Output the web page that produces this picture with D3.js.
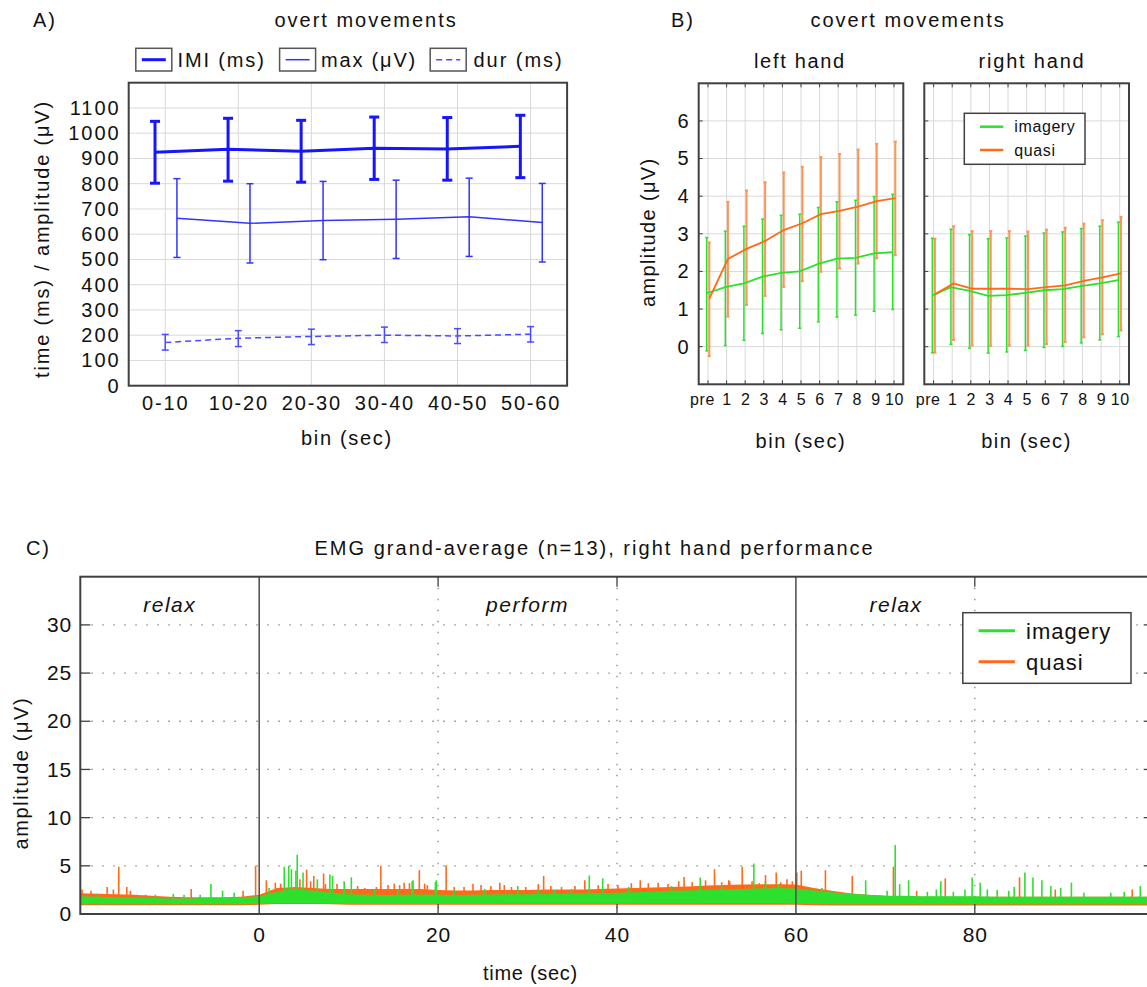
<!DOCTYPE html>
<html>
<head>
<meta charset="utf-8">
<script src="https://cdn.jsdelivr.net/npm/d3@7"></script>
<style>
  html, body { margin: 0; padding: 0; background: #fff; }
  svg { display: block; font-family: "Liberation Sans", Arial, Helvetica, sans-serif; }
</style>
</head>
<body>
<svg id="chart" width="1147" height="987"></svg>
<script>
// ---------------- Panel A data: overt movements ----------------
const binsA = ["0-10", "10-20", "20-30", "30-40", "40-50", "50-60"];
const imiMean = [925, 936, 929, 940, 937, 948];
const imiHi   = [1047, 1059, 1051, 1064, 1062, 1071];
const imiLo   = [802, 810, 806, 817, 814, 824];
const maxMean = [663, 643, 654, 659, 669, 646];
const maxHi   = [820, 800, 809, 814, 822, 801];
const maxLo   = [508, 486, 499, 504, 512, 490];
const durMean = [171, 188, 195, 200, 197, 204];
const durHi   = [203, 218, 224, 232, 226, 234];
const durLo   = [141, 155, 163, 171, 167, 173];
const yTicksA = [0, 100, 200, 300, 400, 500, 600, 700, 800, 900, 1000, 1100];
const legendA = ["IMI (ms)", "max (\u03BCV)", "dur (ms)"];

// ---------------- Panel B data: covert movements ----------------
const binsB = ["pre", "1", "2", "3", "4", "5", "6", "7", "8", "9", "10"];
const leftImgMean = [1.42, 1.58, 1.68, 1.86, 1.96, 2.00, 2.20, 2.34, 2.36, 2.48, 2.51];
const leftImgHi   = [2.90, 3.07, 3.20, 3.39, 3.49, 3.52, 3.70, 3.85, 3.89, 3.99, 4.05];
const leftImgLo   = [-0.11, 0.03, 0.17, 0.35, 0.45, 0.49, 0.66, 0.79, 0.84, 0.94, 0.99];
const leftQuaMean = [1.28, 2.33, 2.60, 2.81, 3.10, 3.28, 3.52, 3.61, 3.72, 3.87, 3.95];
const leftQuaHi   = [2.77, 3.85, 4.15, 4.37, 4.63, 4.78, 5.04, 5.12, 5.24, 5.39, 5.45];
const leftQuaLo   = [-0.25, 0.80, 1.11, 1.35, 1.59, 1.74, 1.99, 2.08, 2.21, 2.35, 2.43];
const rightImgMean = [1.36, 1.58, 1.48, 1.35, 1.37, 1.43, 1.50, 1.53, 1.61, 1.68, 1.77];
const rightImgHi   = [2.88, 3.12, 2.98, 2.87, 2.89, 2.94, 3.02, 3.05, 3.14, 3.20, 3.31];
const rightImgLo   = [-0.16, 0.06, -0.04, -0.17, -0.14, -0.10, -0.02, 0.01, 0.10, 0.18, 0.27];
const rightQuaMean = [1.39, 1.68, 1.54, 1.54, 1.54, 1.53, 1.58, 1.63, 1.75, 1.84, 1.95];
const rightQuaHi   = [2.87, 3.20, 3.07, 3.07, 3.07, 3.06, 3.11, 3.16, 3.27, 3.36, 3.45];
const rightQuaLo   = [-0.16, 0.18, 0.03, 0.02, 0.03, 0.03, 0.07, 0.12, 0.25, 0.33, 0.43];
const yTicksB = [0, 1, 2, 3, 4, 5, 6];
const legendB = ["imagery", "quasi"];

// ---------------- Panel C data: EMG grand average ----------------
// envelope of the dense trace, sampled every 2 s from -20 s to 100 s
const emgTime = [-20,-18,-16,-14,-12,-10,-8,-6,-4,-2,0,2,4,6,8,10,12,14,16,18,20,22,24,26,28,30,32,34,36,38,40,42,44,46,48,50,52,54,56,58,60,62,64,66,68,70,72,74,76,78,80,82,84,86,88,90,92,94,96,98,100];
const imgBandHi = [1.85,1.80,1.75,1.70,1.65,1.60,1.62,1.65,1.68,1.72,1.85,2.30,2.60,2.40,2.20,2.05,2.00,1.98,2.00,2.02,2.00,1.98,2.00,2.02,2.05,2.05,2.08,2.10,2.12,2.15,2.20,2.25,2.30,2.40,2.45,2.50,2.55,2.60,2.65,2.70,2.65,2.45,2.25,2.10,2.00,1.90,1.90,1.85,1.85,1.85,1.85,1.80,1.80,1.80,1.80,1.80,1.78,1.78,1.78,1.78,1.78];
const imgBandLo = [1.00,1.00,1.00,1.00,1.00,1.00,1.00,1.00,1.00,1.00,1.05,1.15,1.15,1.15,1.12,1.05,1.05,1.05,1.05,1.05,1.05,1.05,1.05,1.05,1.08,1.08,1.08,1.08,1.10,1.10,1.10,1.10,1.12,1.12,1.12,1.15,1.15,1.15,1.15,1.15,1.10,1.05,1.00,1.00,1.00,1.00,1.00,1.00,1.00,1.00,1.00,1.00,1.00,1.00,1.00,1.00,1.00,1.00,1.00,1.00,1.00];
const quaBandHi = [2.15,2.10,2.05,2.00,1.90,1.80,1.75,1.75,1.75,1.80,2.00,2.70,2.80,2.70,2.60,2.60,2.60,2.60,2.60,2.60,2.50,2.45,2.45,2.50,2.50,2.50,2.55,2.55,2.55,2.60,2.65,2.70,2.75,2.80,2.85,2.95,3.00,3.05,3.10,3.10,3.05,2.70,2.40,2.15,2.00,1.90,1.80,1.80,1.80,1.80,1.80,1.80,1.80,1.80,1.80,1.80,1.80,1.80,1.80,1.80,1.80];
const quaBandLo = [0.90,0.90,0.90,0.90,0.90,0.90,0.90,0.90,0.90,0.90,0.95,1.05,1.05,1.05,1.00,0.95,0.95,0.95,0.95,0.95,0.95,0.95,0.95,0.95,0.95,0.95,0.95,0.95,0.95,0.95,0.95,0.95,0.95,0.95,0.95,0.95,0.95,0.95,0.95,0.95,0.95,0.90,0.87,0.87,0.87,0.87,0.87,0.87,0.87,0.87,0.87,0.87,0.87,0.87,0.87,0.87,0.87,0.87,0.87,0.87,0.87];
// spikes of the trace (time in s, peak amplitude in uV)
const imgSpikeT = [-18.1,-11.6,-9.6,-8.4,-6.6,-5.4,-4.1,-2.8,1.1,2.8,3.3,3.6,4.1,4.25,4.9,6.5,7.9,8.2,9.5,10.3,12.9,15.5,17.1,17.2,19.7,19.8,21.8,25.2,28.9,31.2,33.0,34.9,36.9,38.4,41.3,46.1,49.3,51.7,55.3,56.6,58.1,62.9,67.8,70.2,71.1,71.6,72.6,74.7,75.7,76.2,77.6,78.9,79.7,80.6,81.4,82.5,83.8,84.4,85.6,86.5,87.5,88.5,89.6,90.8,92.2,95.2,96.7,98.5];
const imgSpikeV = [2.1,2.0,2.1,2.0,2.0,3.1,2.4,2.2,2.7,4.9,5.0,4.65,4.5,6.15,4.3,3.6,4.1,3.95,3.4,3.8,2.6,2.5,3.4,3.5,3.3,3.5,2.5,2.6,2.9,2.6,2.5,2.6,4.0,3.7,2.8,2.9,3.8,3.0,5.25,3.4,3.1,2.7,3.5,2.4,7.15,3.1,3.5,2.3,2.55,3.4,2.3,2.55,3.8,3.25,2.55,2.5,2.4,2.8,4.3,3.8,3.5,2.9,2.7,3.25,2.2,2.2,2.3,2.9];
const quaSpikeT = [-19.8,-18.8,-17.0,-16.3,-15.7,-14.8,-14.4,-12.7,-7.6,-1.8,-0.4,0.8,1.8,2.4,4.55,5.3,5.75,6.1,7.2,7.4,8.7,11.0,11.8,13.1,13.6,14.4,15.1,15.7,16.2,16.8,17.9,18.5,18.8,20.9,21.8,22.9,23.9,24.8,25.9,26.9,27.4,28.2,29.8,31.2,31.8,32.6,33.8,35.3,36.4,37.9,39.0,40.1,41.6,42.6,43.5,44.6,45.7,46.9,47.5,48.4,49.9,50.9,51.7,52.5,52.6,54.0,55.1,55.9,56.6,57.8,58.3,59.0,59.6,60.1,60.6,63.3,66.3,70.9,73.5,76.7,85.0,89.0,97.6];
const quaSpikeV = [2.55,2.4,2.8,2.55,4.9,2.8,2.4,2.0,2.6,2.4,5.0,3.5,3.25,3.15,3.6,4.6,3.4,3.95,4.2,3.1,3.1,2.9,2.7,2.8,5.0,3.0,3.15,3.0,3.25,3.2,4.55,3.15,3.0,5.05,2.8,2.8,3.15,3.0,2.9,3.25,3.0,2.8,2.8,3.1,3.95,2.9,2.8,2.9,3.5,3.0,3.1,3.0,3.2,3.5,3.2,3.25,3.1,3.4,3.85,3.3,3.5,4.65,3.3,3.5,3.4,4.9,3.4,3.2,4.05,4.3,3.3,3.6,3.4,4.3,4.5,4.55,3.95,4.9,2.4,3.7,3.8,2.55,2.55];
const yTicksC = [0, 5, 10, 15, 20, 25, 30];
const xTicksC = [0, 20, 40, 60, 80];
const phases = [{t: -10, label: "relax"}, {t: 30, label: "perform"}, {t: 71.2, label: "relax"}];
const legendC = ["imagery", "quasi"];

// ---------------- styling ----------------
const BLUE = "#1515ff", BLUE2 = "#3333ff", BLUE3 = "#4a4aff";
const GREEN = "#2ee02e", ORANGE = "#ff6a1a", ORANGE_BAR = "#ff9455";
const FRAME = "#404040", GRID = "#d9d9d9", TXT = "#111";

const svg = d3.select("#chart");
svg.append("rect").attr("width", 1147).attr("height", 987).attr("fill", "#fff");

function txt(g, x, y, s, o = {}) {
  const t = g.append("text")
    .attr("x", x).attr("y", y)
    .attr("font-size", o.size || 20)
    .attr("fill", o.fill || TXT)
    .attr("text-anchor", o.anchor || "start")
    .style("letter-spacing", (o.ls != null ? o.ls : 1.8) + "px")
    .text(s);
  if (o.italic) t.attr("font-style", "italic");
  if (o.rotate) t.attr("transform", `rotate(${o.rotate},${x},${y})`);
  if (o.len) t.attr("textLength", o.len).attr("lengthAdjust", "spacing");
  return t;
}

// ====================== PANEL A ======================
(function () {
  const g = svg.append("g");
  const L = 128.7, R = 567.1, T = 82.7, B = 385.7;
  const x = d3.scaleLinear().domain([0.5, 6.5]).range([L, R]);
  const y = d3.scaleLinear().domain([0, 1200]).range([B, T]);

  // grid
  g.append("g").selectAll("line").data(d3.range(100, 1200, 100)).join("line")
    .attr("x1", L).attr("x2", R).attr("y1", d => y(d)).attr("y2", d => y(d))
    .attr("stroke", GRID).attr("stroke-width", 1);
  g.append("g").selectAll("line").data(binsA).join("line")
    .attr("x1", (d, i) => x(i + 1)).attr("x2", (d, i) => x(i + 1)).attr("y1", T).attr("y2", B)
    .attr("stroke", GRID).attr("stroke-width", 1);

  function series(mean, hi, lo, off, color, lw, capW, dash) {
    const line = d3.line().x((d, i) => x(i + 1 + off)).y(d => y(d));
    g.append("path").datum(mean).attr("d", line).attr("fill", "none")
      .attr("stroke", color).attr("stroke-width", lw).attr("stroke-dasharray", dash || null);
    const eb = g.append("g").attr("stroke", color).attr("stroke-width", lw);
    mean.forEach((m, i) => {
      const cx = x(i + 1 + off);
      eb.append("line").attr("x1", cx).attr("x2", cx).attr("y1", y(hi[i])).attr("y2", y(lo[i]));
      eb.append("line").attr("x1", cx - capW).attr("x2", cx + capW).attr("y1", y(hi[i])).attr("y2", y(hi[i]));
      eb.append("line").attr("x1", cx - capW).attr("x2", cx + capW).attr("y1", y(lo[i])).attr("y2", y(lo[i]));
    });
  }
  series(imiMean, imiHi, imiLo, -0.14, BLUE, 3, 5);
  series(maxMean, maxHi, maxLo, 0.16, BLUE2, 1.5, 3.5);
  series(durMean, durHi, durLo, 0, BLUE3, 1.5, 3.5, "6,4");

  // frame
  g.append("rect").attr("x", L).attr("y", T).attr("width", R - L).attr("height", B - T)
    .attr("fill", "none").attr("stroke", FRAME).attr("stroke-width", 2);

  // axes
  const ya = g.append("g").attr("transform", `translate(${L},0)`)
    .call(d3.axisLeft(y).tickValues(yTicksA).tickFormat(d3.format("d")).tickSize(0).tickPadding(8));
  ya.select(".domain").remove();
  ya.selectAll("text").attr("font-size", 20).attr("fill", TXT)
    .style("letter-spacing", "2px").attr("font-family", null);
  const xa = g.append("g").attr("transform", `translate(0,${B})`)
    .call(d3.axisBottom(x).tickValues(d3.range(1, 7)).tickFormat(i => binsA[i - 1]).tickSize(0).tickPadding(10));
  xa.select(".domain").remove();
  xa.selectAll("text").attr("font-size", 20).attr("fill", TXT)
    .style("letter-spacing", "1.8px").attr("font-family", null).attr("dy", null).attr("y", 24);

  // labels
  txt(g, 33, 27, "A)", {size: 20});
  txt(g, 366, 27, "overt movements", {size: 20, anchor: "middle", len: 183});
  txt(g, 347, 445, "bin (sec)", {size: 20, anchor: "middle", len: 92});
  txt(g, 49, 239, "time (ms) / amplitude (\u03BCV)", {size: 20, anchor: "middle", rotate: -90, len: 278});

  // legend
  const bx = [135.8, 279.6, 430.2], tx = [177.6, 321, 473.5], tl = [88, 96, 90];
  const lw = [3, 1.5, 1.5], lc = [BLUE, BLUE2, BLUE3], ld = [null, null, "6,4"];
  legendA.forEach((s, i) => {
    g.append("rect").attr("x", bx[i]).attr("y", 48.3).attr("width", 36).attr("height", 22.7)
      .attr("fill", "#fff").attr("stroke", "#555").attr("stroke-width", 1.5);
    g.append("line").attr("x1", bx[i] + 6).attr("x2", bx[i] + 30).attr("y1", 59.7).attr("y2", 59.7)
      .attr("stroke", lc[i]).attr("stroke-width", lw[i]).attr("stroke-dasharray", ld[i]);
    txt(g, tx[i], 67, s, {size: 20, len: tl[i]});
  });
})();

// ====================== PANEL B ======================
(function () {
  const g = svg.append("g");
  const T = 83.3, B = 384.3;
  const y = d3.scaleLinear().domain([-1, 7]).range([B, T]);

  function sub(L, R, img, imgHi, imgLo, qua, quaHi, quaLo, title, titleX, titleLen, withAxis) {
    const x = d3.scaleLinear().domain([-0.5, 10.5]).range([L, R]);
    // grid
    g.append("g").selectAll("line").data(yTicksB).join("line")
      .attr("x1", L).attr("x2", R).attr("y1", d => y(d)).attr("y2", d => y(d))
      .attr("stroke", GRID).attr("stroke-width", 1);
    g.append("g").selectAll("line").data(binsB).join("line")
      .attr("x1", (d, i) => x(i)).attr("x2", (d, i) => x(i)).attr("y1", T).attr("y2", B)
      .attr("stroke", GRID).attr("stroke-width", 1);
    // inner ticks
    g.append("g").selectAll("line").data(yTicksB).join("line")
      .attr("x1", L).attr("x2", L + 4).attr("y1", d => y(d)).attr("y2", d => y(d))
      .attr("stroke", FRAME).attr("stroke-width", 1);
    g.append("g").selectAll("line").data(binsB).join("line")
      .attr("x1", (d, i) => x(i)).attr("x2", (d, i) => x(i)).attr("y1", T).attr("y2", T + 4)
      .attr("stroke", FRAME).attr("stroke-width", 1);
    g.append("g").selectAll("line").data(binsB).join("line")
      .attr("x1", (d, i) => x(i)).attr("x2", (d, i) => x(i)).attr("y1", B).attr("y2", B - 4)
      .attr("stroke", FRAME).attr("stroke-width", 1);

    function bars(hi, lo, off, color, w) {
      const eb = g.append("g").attr("stroke", color).attr("stroke-width", w);
      hi.forEach((h, i) => {
        const cx = x(i + off);
        eb.append("line").attr("x1", cx).attr("x2", cx).attr("y1", y(h)).attr("y2", y(lo[i]));
        eb.append("line").attr("x1", cx - 1.5).attr("x2", cx + 1.5).attr("y1", y(h)).attr("y2", y(h));
        eb.append("line").attr("x1", cx - 1.5).attr("x2", cx + 1.5).attr("y1", y(lo[i])).attr("y2", y(lo[i]));
      });
    }
    bars(quaHi, quaLo, 0.07, ORANGE_BAR, 2);
    bars(imgHi, imgLo, -0.07, GREEN, 1.5);
    const lnG = d3.line().x((d, i) => x(i - 0.07)).y(d => y(d));
    const lnO = d3.line().x((d, i) => x(i + 0.07)).y(d => y(d));
    g.append("path").datum(img).attr("d", lnG).attr("fill", "none").attr("stroke", GREEN).attr("stroke-width", 1.8);
    g.append("path").datum(qua).attr("d", lnO).attr("fill", "none").attr("stroke", ORANGE).attr("stroke-width", 1.8);

    g.append("rect").attr("x", L).attr("y", T).attr("width", R - L).attr("height", B - T)
      .attr("fill", "none").attr("stroke", FRAME).attr("stroke-width", 2);

    const xa = g.append("g").attr("transform", `translate(0,${B})`)
      .call(d3.axisBottom(x).tickValues(d3.range(0, 11)).tickFormat(i => binsB[i]).tickSize(0).tickPadding(6));
    xa.select(".domain").remove();
    xa.selectAll("text").attr("font-size", 16).attr("fill", TXT).attr("font-family", null)
      .style("letter-spacing", "0.6px").attr("dy", null).attr("y", 21)
      .attr("dx", (d) => d === 0 ? -6 : 0);
    if (withAxis) {
      const ya = g.append("g").attr("transform", `translate(${L},0)`)
        .call(d3.axisLeft(y).tickValues(yTicksB).tickSize(0).tickPadding(10));
      ya.select(".domain").remove();
      ya.selectAll("text").attr("font-size", 20).attr("fill", TXT).attr("font-family", null);
    }
    txt(g, titleX, 68, title, {size: 20, anchor: "middle", len: titleLen});
    txt(g, (L + R) / 2, 448, "bin (sec)", {size: 20, anchor: "middle", len: 91});
  }
  sub(698.7, 903.3, leftImgMean, leftImgHi, leftImgLo, leftQuaMean, leftQuaHi, leftQuaLo, "left hand", 800, 92, true);
  sub(924.3, 1129, rightImgMean, rightImgHi, rightImgLo, rightQuaMean, rightQuaHi, rightQuaLo, "right hand", 1032, 107, false);

  txt(g, 671, 27, "B)", {size: 20});
  txt(g, 908, 27, "covert movements", {size: 20, anchor: "middle", len: 195});
  txt(g, 655, 232, "amplitude (\u03BCV)", {size: 20, anchor: "middle", rotate: -90, len: 150});

  // legend
  g.append("rect").attr("x", 964.3).attr("y", 113.3).attr("width", 120.7).attr("height", 51)
    .attr("fill", "#fff").attr("stroke", FRAME).attr("stroke-width", 1.5);
  [GREEN, ORANGE].forEach((c, i) => {
    const yy = 126.7 + i * 23.3;
    g.append("line").attr("x1", 980).attr("x2", 1003.3).attr("y1", yy).attr("y2", yy)
      .attr("stroke", c).attr("stroke-width", 2.5);
    txt(g, 1014.3, yy + 5.5, legendB[i], {size: 16, ls: 0.6});
  });
})();

// ====================== PANEL C ======================
(function () {
  const g = svg.append("g");
  const L = 80.3, T = 576.7, B = 914;
  const x = d3.scaleLinear().domain([-20, 100]).range([L, 1153.7]);
  const R = x(100);
  const y = d3.scaleLinear().domain([0, 35]).range([B, T]);
  const DOT = "#8a8a8a";

  // dotted grid
  g.append("g").selectAll("line").data(yTicksC.filter(d => d > 0)).join("line")
    .attr("x1", L).attr("x2", R).attr("y1", d => y(d)).attr("y2", d => y(d))
    .attr("stroke", DOT).attr("stroke-width", 1.3).attr("stroke-dasharray", "1.5,9.5");
  g.append("g").selectAll("line").data([20, 40, 80]).join("line")
    .attr("x1", d => x(d)).attr("x2", d => x(d)).attr("y1", T).attr("y2", B)
    .attr("stroke", DOT).attr("stroke-width", 1.3).attr("stroke-dasharray", "1.5,9.5");

  // data: quasi first, imagery on top
  g.append("clipPath").attr("id", "clipC").append("rect")
    .attr("x", L).attr("y", T).attr("width", R - L).attr("height", B - T);
  const dg = g.append("g").attr("clip-path", "url(#clipC)");
  const areaQ = d3.area().x((d, i) => x(emgTime[i])).y0((d, i) => y(quaBandLo[i])).y1(d => y(d));
  const areaG = d3.area().x((d, i) => x(emgTime[i])).y0((d, i) => y(imgBandLo[i])).y1(d => y(d));
  dg.append("path").datum(quaBandHi).attr("d", areaQ).attr("fill", ORANGE);
  dg.append("g").selectAll("line").data(quaSpikeT).join("line")
    .attr("x1", d => x(d)).attr("x2", d => x(d)).attr("y1", y(1.6)).attr("y2", (d, i) => y(quaSpikeV[i]))
    .attr("stroke", ORANGE).attr("stroke-width", 1.6);
  dg.append("path").datum(imgBandHi).attr("d", areaG).attr("fill", GREEN);
  dg.append("g").selectAll("line").data(imgSpikeT).join("line")
    .attr("x1", d => x(d)).attr("x2", d => x(d)).attr("y1", y(1.6)).attr("y2", (d, i) => y(imgSpikeV[i]))
    .attr("stroke", GREEN).attr("stroke-width", 1.6);

  // solid event lines at 0 and 60 s
  g.append("g").selectAll("line").data([0, 60]).join("line")
    .attr("x1", d => x(d)).attr("x2", d => x(d)).attr("y1", T).attr("y2", B)
    .attr("stroke", "#555").attr("stroke-width", 1.6);

  // inner ticks
  const tk = g.append("g").attr("stroke", FRAME).attr("stroke-width", 1.3);
  yTicksC.forEach(v => {
    tk.append("line").attr("x1", L).attr("x2", L + 10).attr("y1", y(v)).attr("y2", y(v));
    tk.append("line").attr("x1", R).attr("x2", R - 10).attr("y1", y(v)).attr("y2", y(v));
  });
  [20, 40, 80].forEach(v => {
    tk.append("line").attr("x1", x(v)).attr("x2", x(v)).attr("y1", B).attr("y2", B - 10);
    tk.append("line").attr("x1", x(v)).attr("x2", x(v)).attr("y1", T).attr("y2", T + 10);
  });

  g.append("rect").attr("x", L).attr("y", T).attr("width", R - L).attr("height", B - T)
    .attr("fill", "none").attr("stroke", FRAME).attr("stroke-width", 2);

  const ya = g.append("g").attr("transform", `translate(${L},0)`)
    .call(d3.axisLeft(y).tickValues(yTicksC).tickSize(0).tickPadding(8));
  ya.select(".domain").remove();
  ya.selectAll("text").attr("font-size", 21).attr("fill", TXT).attr("font-family", null).style("letter-spacing", "1px");
  const xa = g.append("g").attr("transform", `translate(0,${B})`)
    .call(d3.axisBottom(x).tickValues(xTicksC).tickSize(0).tickPadding(8));
  xa.select(".domain").remove();
  xa.selectAll("text").attr("font-size", 21).attr("fill", TXT).attr("font-family", null)
    .style("letter-spacing", "1px").attr("dy", null).attr("y", 28);

  phases.forEach(p => txt(g, x(p.t), 612, p.label, {size: 21, anchor: "middle", italic: true, ls: 1.5}));

  txt(g, 26, 555, "C)", {size: 20});
  txt(g, 594.5, 555, "EMG grand-average (n=13), right hand performance", {size: 20, anchor: "middle", len: 560});
  txt(g, 531, 980, "time (sec)", {size: 20, anchor: "middle", len: 96});
  txt(g, 28, 773, "amplitude (\u03BCV)", {size: 20, anchor: "middle", rotate: -90, len: 153});

  // legend
  g.append("rect").attr("x", 962.8).attr("y", 612.7).attr("width", 168.2).attr("height", 70.6)
    .attr("fill", "#fff").attr("stroke", FRAME).attr("stroke-width", 1.5);
  [GREEN, ORANGE].forEach((c, i) => {
    const yy = 630.7 + i * 31;
    g.append("line").attr("x1", 978.6).attr("x2", 1014.9).attr("y1", yy).attr("y2", yy)
      .attr("stroke", c).attr("stroke-width", 3);
    txt(g, 1026, yy + 8, legendC[i], {size: 22, ls: 1});
  });
})();
</script>
</body>
</html>
